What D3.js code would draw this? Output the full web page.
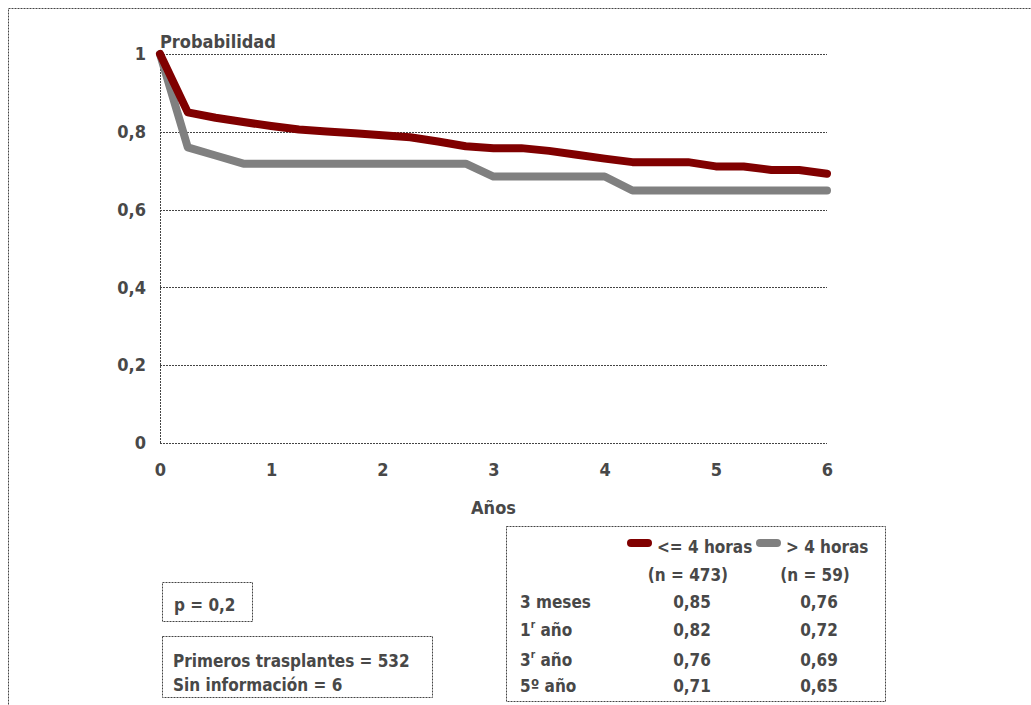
<!DOCTYPE html>
<html>
<head>
<meta charset="utf-8">
<script src="https://cdn.jsdelivr.net/npm/d3@7"></script>
<style>
body { margin: 0; background: #fff; }
text { font-family: "DejaVu Sans Condensed", "Liberation Sans Narrow", sans-serif; font-weight: bold; fill: #484848; }
</style>
</head>
<body>
<div id="chart"></div>
<script>
var w = 1031;
var h = 705;

// survival curves, one point every quarter year
var years = [0, 0.25, 0.5, 0.75, 1, 1.25, 1.5, 1.75, 2, 2.25, 2.5, 2.75, 3, 3.25, 3.5, 3.75, 4, 4.25, 4.5, 4.75, 5, 5.25, 5.5, 5.75, 6];
var lowHours = [1, 0.85, 0.836, 0.825, 0.815, 0.806, 0.801, 0.796, 0.791, 0.786, 0.775, 0.763, 0.758, 0.758, 0.751, 0.741, 0.731, 0.722, 0.722, 0.722, 0.711, 0.711, 0.702, 0.702, 0.692];
var highHours = [1, 0.76, 0.739, 0.718, 0.718, 0.718, 0.718, 0.718, 0.718, 0.718, 0.718, 0.718, 0.685, 0.685, 0.685, 0.685, 0.685, 0.649, 0.649, 0.649, 0.649, 0.649, 0.649, 0.649, 0.649];

var yTicks = [0, 0.2, 0.4, 0.6, 0.8, 1];
var xTicks = [0, 1, 2, 3, 4, 5, 6];

var seriesNames = ["<= 4 horas", "> 4 horas"];
var seriesN = ["(n = 473)", "(n = 59)"];
var seriesColors = ["#800000", "#808080"];

var rowLabels = ["3 meses", "1|r| año", "3|r| año", "5º año"];
var lowValues = ["0,85", "0,82", "0,76", "0,71"];
var highValues = ["0,76", "0,72", "0,69", "0,65"];

var pText = ["p = 0,2"];
var infoText = ["Primeros trasplantes = 532", "Sin información = 6"];

var fmt = function(d) { return String(d).replace(".", ","); };

var svg = d3.select("#chart")
    .append("svg")
    .attr("width", w)
    .attr("height", h);

var dash = "2,1";
var dashColor = "#444";

// outer frame (runs off the right and bottom)
svg.append("rect")
    .attr("x", 8.5).attr("y", 8.5)
    .attr("width", w + 20).attr("height", h + 20)
    .attr("fill", "none")
    .attr("stroke", dashColor)
    .attr("stroke-dasharray", dash);

var x = d3.scaleLinear().domain([0, 6]).range([160, 827]);
var y = d3.scaleLinear().domain([0, 1]).range([443, 54]);

// gridlines
svg.append("g")
    .selectAll("line")
    .data(yTicks)
    .enter().append("line")
    .attr("x1", x(0)).attr("x2", x(6))
    .attr("y1", function(d) { return Math.round(y(d)) + 0.5; })
    .attr("y2", function(d) { return Math.round(y(d)) + 0.5; })
    .attr("stroke", dashColor)
    .attr("stroke-dasharray", dash);

svg.append("line")
    .attr("x1", x(0) + 0.5).attr("x2", x(0) + 0.5)
    .attr("y1", y(1)).attr("y2", y(0))
    .attr("stroke", dashColor)
    .attr("stroke-dasharray", dash);

// axes
var yAxis = d3.axisLeft(y).tickValues(yTicks).tickFormat(fmt).tickSize(0).tickPadding(14);
var xAxis = d3.axisBottom(x).tickValues(xTicks).tickFormat(fmt).tickSize(0).tickPadding(20);

svg.append("g")
    .attr("transform", "translate(" + x(0) + ",0)")
    .call(yAxis)
    .call(function(g) { g.select(".domain").remove(); })
    .selectAll("text").style("font-size", "18px");

svg.append("g")
    .attr("transform", "translate(0," + y(0) + ")")
    .call(xAxis)
    .call(function(g) { g.select(".domain").remove(); })
    .selectAll("text").style("font-size", "18px");

svg.append("text")
    .attr("x", 160).attr("y", 48)
    .style("font-size", "18px")
    .text("Probabilidad");

svg.append("text")
    .attr("x", (x(0) + x(6)) / 2).attr("y", 514)
    .attr("text-anchor", "middle")
    .style("font-size", "18px")
    .text("Años");

// curves
var line = d3.line()
    .x(function(d) { return x(d[0]); })
    .y(function(d) { return y(d[1]); });

[highHours, lowHours].forEach(function(vals, k) {
    var pts = years.map(function(t, i) { return [t, vals[i]]; });
    svg.append("path")
        .attr("d", line(pts))
        .attr("fill", "none")
        .attr("stroke", k === 0 ? seriesColors[1] : seriesColors[0])
        .attr("stroke-width", 8)
        .attr("stroke-linejoin", "round")
        .attr("stroke-linecap", "round");
});

// info boxes
var box = function(x0, y0, bw, bh) {
    svg.append("rect")
        .attr("x", x0 + 0.5).attr("y", y0 + 0.5)
        .attr("width", bw).attr("height", bh)
        .attr("fill", "none")
        .attr("stroke", dashColor)
        .attr("stroke-dasharray", dash);
};

box(162, 582, 90, 39);
svg.append("text").attr("x", 174).attr("y", 611).style("font-size", "17px").text(pText[0]);

box(162, 636, 270, 61);
svg.selectAll(".info")
    .data(infoText)
    .enter().append("text")
    .attr("class", "info")
    .attr("x", 173)
    .attr("y", function(d, i) { return 667 + i * 24; })
    .style("font-size", "17px")
    .text(function(d) { return d; });

// results table
box(506, 526, 379, 175);

var colX = [692, 819];

seriesNames.forEach(function(name, i) {
    svg.append("line")
        .attr("x1", i === 0 ? 631 : 760).attr("x2", i === 0 ? 648 : 777)
        .attr("y1", 543).attr("y2", 543)
        .attr("stroke", seriesColors[i])
        .attr("stroke-width", 8)
        .attr("stroke-linecap", "round");
    svg.append("text")
        .attr("x", i === 0 ? 657 : 786).attr("y", 553)
        .style("font-size", "17px")
        .text(name);
    svg.append("text")
        .attr("x", colX[i] - 4).attr("y", 581)
        .attr("text-anchor", "middle")
        .style("font-size", "17px")
        .text(seriesN[i]);
});

var rowY = [608, 636, 666, 692];

rowLabels.forEach(function(lbl, i) {
    var parts = lbl.split("|");
    var t = svg.append("text")
        .attr("x", 520).attr("y", rowY[i])
        .style("font-size", "17px");
    t.append("tspan").text(parts[0]);
    if (parts.length > 1) {
        t.append("tspan").attr("dy", -8).style("font-size", "10px").text(parts[1]);
        t.append("tspan").attr("dy", 8).text(" " + parts[2].trim());
    }
    svg.append("text")
        .attr("x", colX[0]).attr("y", rowY[i])
        .attr("text-anchor", "middle")
        .style("font-size", "17px")
        .text(lowValues[i]);
    svg.append("text")
        .attr("x", colX[1]).attr("y", rowY[i])
        .attr("text-anchor", "middle")
        .style("font-size", "17px")
        .text(highValues[i]);
});
</script>
</body>
</html>
